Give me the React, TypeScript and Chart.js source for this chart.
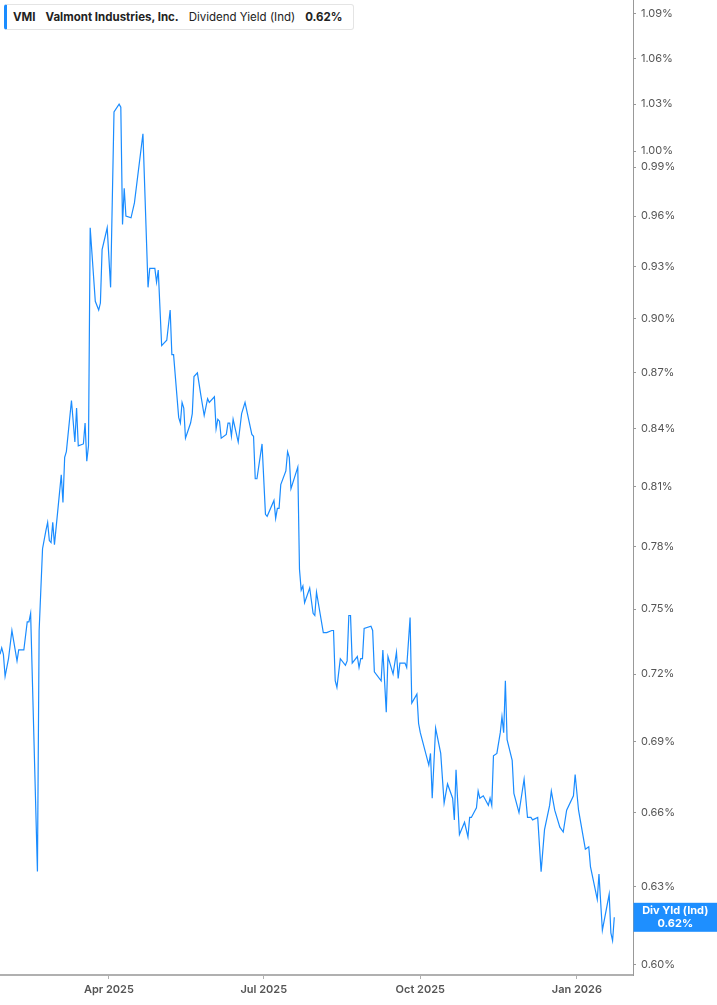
import React, { useEffect, useRef } from "react";
import { Chart, registerables } from "chart.js";

Chart.register(...registerables);

const TICKER = "VMI";
const COMPANY = "Valmont Industries, Inc.";
const METRIC = "Dividend Yield (Ind)";
const BADGE_LABEL = "Div Yld (Ind)";

const dates: string[] = [
  "2025-01-27", "2025-01-28", "2025-01-29", "2025-01-30", "2025-02-01", "2025-02-03", "2025-02-06", "2025-02-07",
  "2025-02-10", "2025-02-12", "2025-02-13", "2025-02-14", "2025-02-18", "2025-02-19", "2025-02-21", "2025-02-23",
  "2025-02-24", "2025-02-25", "2025-02-26", "2025-02-27", "2025-02-28", "2025-03-04", "2025-03-05", "2025-03-06",
  "2025-03-07", "2025-03-10", "2025-03-12", "2025-03-13", "2025-03-14", "2025-03-17", "2025-03-18", "2025-03-19",
  "2025-03-20", "2025-03-21", "2025-03-24", "2025-03-26", "2025-03-27", "2025-03-28", "2025-03-31", "2025-04-02",
  "2025-04-04", "2025-04-07", "2025-04-08", "2025-04-09", "2025-04-10", "2025-04-11", "2025-04-14", "2025-04-16",
  "2025-04-21", "2025-04-24", "2025-04-25", "2025-04-28", "2025-04-29", "2025-04-30", "2025-05-02", "2025-05-05",
  "2025-05-07", "2025-05-08", "2025-05-09", "2025-05-12", "2025-05-13", "2025-05-14", "2025-05-15", "2025-05-16",
  "2025-05-19", "2025-05-20", "2025-05-21", "2025-05-23", "2025-05-25", "2025-05-27", "2025-05-29", "2025-05-30",
  "2025-06-02", "2025-06-03", "2025-06-04", "2025-06-05", "2025-06-06", "2025-06-09", "2025-06-10", "2025-06-11",
  "2025-06-12", "2025-06-13", "2025-06-16", "2025-06-18", "2025-06-20", "2025-06-24", "2025-06-25", "2025-06-26",
  "2025-06-27", "2025-06-30", "2025-07-02", "2025-07-03", "2025-07-07", "2025-07-08", "2025-07-09", "2025-07-10",
  "2025-07-11", "2025-07-14", "2025-07-15", "2025-07-16", "2025-07-17", "2025-07-21", "2025-07-22", "2025-07-23",
  "2025-07-24", "2025-07-25", "2025-07-28", "2025-07-30", "2025-07-31", "2025-08-01", "2025-08-05", "2025-08-07",
  "2025-08-10", "2025-08-11", "2025-08-12", "2025-08-13", "2025-08-15", "2025-08-18", "2025-08-19", "2025-08-20",
  "2025-08-21", "2025-08-22", "2025-08-25", "2025-08-26", "2025-08-27", "2025-08-28", "2025-08-29", "2025-09-02",
  "2025-09-03", "2025-09-04", "2025-09-08", "2025-09-09", "2025-09-11", "2025-09-12", "2025-09-15", "2025-09-17",
  "2025-09-18", "2025-09-19", "2025-09-22", "2025-09-23", "2025-09-25", "2025-09-26", "2025-09-29", "2025-09-30",
  "2025-10-01", "2025-10-06", "2025-10-07", "2025-10-08", "2025-10-10", "2025-10-13", "2025-10-15", "2025-10-17",
  "2025-10-20", "2025-10-21", "2025-10-22", "2025-10-24", "2025-10-27", "2025-10-29", "2025-10-30", "2025-10-31",
  "2025-11-03", "2025-11-04", "2025-11-05", "2025-11-07", "2025-11-10", "2025-11-11", "2025-11-12", "2025-11-13",
  "2025-11-15", "2025-11-17", "2025-11-18", "2025-11-19", "2025-11-20", "2025-11-21", "2025-11-24", "2025-11-25",
  "2025-11-28", "2025-12-01", "2025-12-03", "2025-12-05", "2025-12-06", "2025-12-09", "2025-12-11", "2025-12-13",
  "2025-12-16", "2025-12-17", "2025-12-19", "2025-12-22", "2025-12-24", "2025-12-26", "2025-12-30", "2025-12-31",
  "2026-01-02", "2026-01-06", "2026-01-08", "2026-01-09", "2026-01-13", "2026-01-14", "2026-01-16", "2026-01-20",
  "2026-01-21", "2026-01-22", "2026-01-23",
];

// dividend yield, in percent
const yields: number[] = [
  0.729, 0.732, 0.729, 0.719, 0.727, 0.740, 0.726, 0.731,
  0.731, 0.744, 0.744, 0.748, 0.636, 0.740, 0.779, 0.788,
  0.792, 0.783, 0.782, 0.792, 0.781, 0.816, 0.802, 0.825,
  0.828, 0.855, 0.833, 0.851, 0.831, 0.832, 0.843, 0.823,
  0.831, 0.953, 0.910, 0.905, 0.909, 0.940, 0.953, 0.918,
  1.025, 1.030, 1.028, 0.955, 0.977, 0.960, 0.959, 0.968,
  1.011, 0.918, 0.929, 0.929, 0.921, 0.928, 0.885, 0.888,
  0.905, 0.880, 0.880, 0.846, 0.843, 0.854, 0.851, 0.835,
  0.843, 0.848, 0.868, 0.870, 0.858, 0.847, 0.856, 0.854,
  0.857, 0.840, 0.845, 0.844, 0.835, 0.837, 0.843, 0.843,
  0.836, 0.845, 0.833, 0.848, 0.854, 0.837, 0.836, 0.814,
  0.814, 0.832, 0.796, 0.795, 0.803, 0.794, 0.799, 0.799,
  0.811, 0.818, 0.828, 0.825, 0.809, 0.820, 0.769, 0.759,
  0.761, 0.753, 0.760, 0.748, 0.747, 0.758, 0.739, 0.739,
  0.740, 0.740, 0.717, 0.714, 0.727, 0.724, 0.726, 0.747,
  0.747, 0.725, 0.728, 0.723, 0.727, 0.727, 0.741, 0.742,
  0.740, 0.721, 0.717, 0.731, 0.703, 0.728, 0.720, 0.730,
  0.718, 0.725, 0.725, 0.723, 0.746, 0.707, 0.711, 0.698,
  0.694, 0.680, 0.685, 0.666, 0.696, 0.685, 0.664, 0.672,
  0.666, 0.657, 0.678, 0.651, 0.656, 0.650, 0.658, 0.658,
  0.662, 0.669, 0.666, 0.667, 0.663, 0.666, 0.663, 0.684,
  0.685, 0.694, 0.701, 0.694, 0.717, 0.691, 0.682, 0.668,
  0.660, 0.674, 0.658, 0.658, 0.657, 0.658, 0.636, 0.653,
  0.663, 0.669, 0.661, 0.654, 0.652, 0.661, 0.667, 0.676,
  0.661, 0.645, 0.646, 0.638, 0.625, 0.635, 0.613, 0.627,
  0.612, 0.609, 0.618,
];

const xTickDates: string[] = ["2025-04-01", "2025-07-01", "2025-10-01", "2026-01-01"];
const xTickLabels: string[] = ["Apr 2025", "Jul 2025", "Oct 2025", "Jan 2026"];
const yTickValues: number[] = [0.6, 0.63, 0.66, 0.69, 0.72, 0.75, 0.78, 0.81, 0.84, 0.87, 0.9, 0.93, 0.96, 0.99, 1.0, 1.03, 1.06, 1.09];

const X_MIN_DATE = "2025-01-27";
const X_MAX_DATE = "2026-02-03";
const Y_MIN = 0.596;
const Y_MAX = 1.0996;

const LINE_COLOR = "#1a8cff";
const FONT = "Inter, Roboto, 'DejaVu Sans', sans-serif";

const dayNum = (iso: string): number => {
  const [y, m, d] = iso.split("-").map(Number);
  return (Date.UTC(y, m - 1, d) - Date.UTC(2025, 0, 1)) / 86400000;
};

export default function App() {
  const canvasRef = useRef<HTMLCanvasElement | null>(null);

  useEffect(() => {
    document.body.style.margin = "0";
    const canvas = canvasRef.current;
    if (!canvas) return;
    const lastValue = yields[yields.length - 1];
    const tickDays = xTickDates.map(dayNum);

    const badgePlugin = {
      id: "lastBadge",
      afterDraw(chart: any) {
        const { ctx, chartArea } = chart;
        const yScale = chart.scales.y;
        const py = yScale.getPixelForValue(lastValue);
        const left = chartArea.right + 0.5;
        const w = chart.width - left;
        ctx.save();
        ctx.fillStyle = "#1e8fff";
        ctx.fillRect(left, py - 14.5, w, 29);
        ctx.fillStyle = "#ffffff";
        ctx.font = `bold 11px ${FONT}`;
        ctx.textAlign = "center";
        ctx.textBaseline = "middle";
        ctx.fillText(BADGE_LABEL, left + w / 2, py - 6.5);
        ctx.fillText(lastValue.toFixed(2) + "%", left + w / 2, py + 6.5);
        ctx.restore();
      },
    };

    const chart = new Chart(canvas, {
      type: "line",
      data: {
        datasets: [
          {
            label: METRIC,
            data: dates.map((d, i) => ({ x: dayNum(d), y: yields[i] })),
            borderColor: LINE_COLOR,
            borderWidth: 1.2,
            pointRadius: 0,
            tension: 0,
            fill: false,
          },
        ],
      },
      options: {
        animation: false,
        responsive: true,
        maintainAspectRatio: false,
        layout: { padding: 0 },
        plugins: { legend: { display: false }, tooltip: { enabled: false } },
        scales: {
          x: {
            type: "linear",
            bounds: "data",
            min: dayNum(X_MIN_DATE),
            max: dayNum(X_MAX_DATE),
            afterBuildTicks: (scale: any) => {
              scale.ticks = tickDays.map((v) => ({ value: v }));
            },
            afterFit: (scale: any) => {
              scale.height = 30;
              scale.paddingLeft = 0;
              scale.paddingRight = 0;
            },
            grid: { drawOnChartArea: false, drawTicks: true, tickLength: 4, color: "#b0b0b0", lineWidth: 1 },
            border: { display: true, color: "#b0b0b0", width: 2 },
            ticks: {
              autoSkip: false,
              maxRotation: 0,
              padding: 4,
              color: "#555",
              font: { family: FONT, size: 11, weight: "600" },
              callback: (v: any) => {
                const i = tickDays.indexOf(Number(v));
                return i >= 0 ? xTickLabels[i] : "";
              },
            },
          },
          y: {
            type: "logarithmic",
            position: "right",
            bounds: "data",
            min: Y_MIN,
            max: Y_MAX,
            afterBuildTicks: (scale: any) => {
              scale.ticks = yTickValues.map((v) => ({ value: v }));
            },
            afterFit: (scale: any) => {
              scale.width = 84;
              scale.paddingTop = 0;
              scale.paddingBottom = 0;
            },
            grid: { drawOnChartArea: false, drawTicks: true, tickLength: 3, color: "#999", lineWidth: 1 },
            border: { display: true, color: "#999", width: 1 },
            ticks: {
              autoSkip: false,
              padding: 5,
              color: "#555",
              font: { family: FONT, size: 11 },
              callback: (v: any) => Number(v).toFixed(2) + "%",
            },
          },
        },
      },
      plugins: [badgePlugin],
    });

    return () => chart.destroy();
  }, []);

  const lastText = yields[yields.length - 1].toFixed(2) + "%";

  return (
    <div style={{ position: "relative", width: 717, height: 1005, background: "#fff", fontFamily: FONT }}>
      <canvas ref={canvasRef} />
      <div
        style={{
          position: "absolute",
          left: 4,
          top: 4,
          height: 24,
          display: "flex",
          alignItems: "center",
          background: "#fff",
          border: "1px solid #e4e4e4",
          borderLeft: `3px solid ${LINE_COLOR}`,
          borderRadius: 3,
          paddingLeft: 6,
          paddingRight: 10,
          fontSize: 11.5,
          color: "#222",
          whiteSpace: "nowrap",
        }}
      >
        <span style={{ fontWeight: 700 }}>{TICKER}</span>
        <span style={{ fontWeight: 700, marginLeft: 10 }}>{COMPANY}</span>
        <span style={{ fontWeight: 400, marginLeft: 10 }}>{METRIC}</span>
        <span style={{ fontWeight: 700, marginLeft: 10 }}>{lastText}</span>
      </div>
    </div>
  );
}
